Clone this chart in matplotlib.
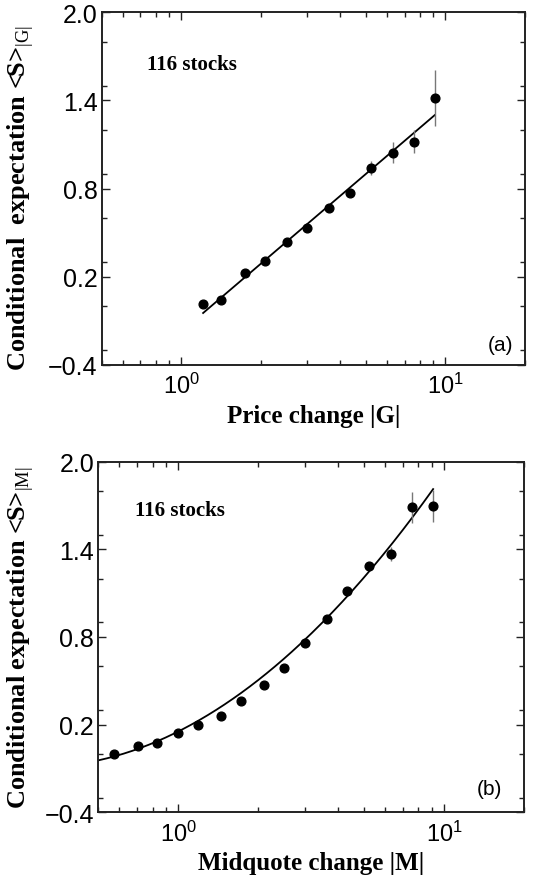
import numpy as np
import matplotlib
matplotlib.use("Agg")
import matplotlib.pyplot as plt
from matplotlib.ticker import FixedLocator, MultipleLocator, LogLocator, FuncFormatter, NullFormatter

plt.rcParams['mathtext.fontset'] = 'custom'
plt.rcParams['mathtext.rm'] = 'Liberation Serif'
plt.rcParams['mathtext.sf'] = 'Liberation Sans'
plt.rcParams['axes.unicode_minus'] = True

# ---- data panel (a): price change |G|
g_x = [1.21, 1.42, 1.74, 2.07, 2.52, 3.0, 3.64, 4.34, 5.21, 6.31, 7.60, 9.11]
g_y = [0.013, 0.039, 0.222, 0.308, 0.436, 0.531, 0.669, 0.771, 0.940, 1.044, 1.12, 1.414]
g_err = [0.01, 0.01, 0.01, 0.01, 0.01, 0.012, 0.015, 0.02, 0.05, 0.07, 0.077, 0.19]
fit_g_x = [1.21, 9.11]
fit_g_y = [-0.048, 1.30]

# ---- data panel (b): midquote change |M|
m_x = [0.571, 0.706, 0.829, 1.0, 1.188, 1.442, 1.719, 2.098, 2.50, 3.0, 3.62, 4.33, 5.22, 6.30, 7.57, 9.08]
m_y = [0.0, 0.056, 0.075, 0.143, 0.198, 0.262, 0.364, 0.474, 0.590, 0.759, 0.921, 1.117, 1.284, 1.368, 1.6875, 1.694]
m_err = [0.005, 0.005, 0.005, 0.005, 0.005, 0.008, 0.01, 0.01, 0.01, 0.012, 0.015, 0.015, 0.02, 0.05, 0.105, 0.11]
fit_m_x = [0.5, 1.0, 2.0, 3.0, 5.2, 9.1]
fit_m_y = [-0.046, 0.158, 0.50, 0.786, 1.243, 1.813]

y_ticks = [-0.4, 0.2, 0.8, 1.4, 2.0]
x_ticks = [1, 10]

W, H = 534, 879
fig = plt.figure(figsize=(W / 100, H / 100), dpi=100)

def px_axes(l, r, t, b):
    return fig.add_axes([l / W, 1 - b / H, (r - l) / W, (b - t) / H])

ax1 = px_axes(101.7, 525, 13.3, 365.7)
ax2 = px_axes(98.3, 524, 462.7, 813.3)

serif = 'Liberation Serif'
sans = 'Liberation Sans'

def style(ax, xlabel, ylabel):
    ax.set_xscale('log')
    ax.set_xlim(0.5, 20)
    ax.set_ylim(-0.4, 2.0)
    ax.yaxis.set_major_locator(FixedLocator(y_ticks))
    ax.yaxis.set_minor_locator(MultipleLocator(0.3))
    ax.yaxis.set_major_formatter(FuncFormatter(lambda v, p: ('%.1f' % v).replace('-', '\u2212')))
    ax.xaxis.set_major_locator(FixedLocator(x_ticks))
    ax.xaxis.set_minor_locator(LogLocator(base=10, subs=np.arange(2, 10)))
    ax.xaxis.set_minor_formatter(NullFormatter())
    ax.xaxis.set_major_formatter(FuncFormatter(lambda v, p: r'$\mathsf{10^{%d}}$' % int(round(np.log10(v)))))
    ax.tick_params(which='both', direction='in', top=True, right=True, width=1.0, color='#222222')
    ax.tick_params(which='major', length=6)
    ax.tick_params(which='minor', length=3.5)
    ax.tick_params(axis='y', labelsize=18, pad=3)
    ax.tick_params(axis='x', labelsize=17, pad=6)
    for lab in ax.get_yticklabels() + ax.get_xticklabels():
        lab.set_fontfamily(sans)
    for s in ax.spines.values():
        s.set_linewidth(1.4)
        s.set_color('#222222')
    ax.set_xlabel(xlabel, fontfamily=serif, fontweight='bold', fontsize=18, labelpad=4)
    ax.set_ylabel(ylabel, fontfamily=serif, fontweight='bold', fontsize=19, labelpad=5)

# panel (a)
ax1.errorbar(g_x, g_y, yerr=g_err, fmt='o', color='black', ms=6.3, ecolor='#777777', elinewidth=1.0, capsize=0, zorder=3)
ax1.plot(fit_g_x, fit_g_y, color='black', lw=1.3, zorder=2)
style(ax1, 'Price change |G|', r'Conditional  expectation <S>$_{\mathrm{|G|}}$')
ax1.yaxis.set_label_coords(-0.155, 0.475)
ax1.text(0.745, 1.65, '116 stocks', fontfamily=serif, fontweight='bold', fontsize=15, va='center', ha='left')
ax1.text(18.0, -0.26, '(a)', fontfamily=sans, fontsize=15, va='center', ha='right')

# panel (b)
coef = np.polyfit(np.log10(fit_m_x), fit_m_y, 2)
xs = np.logspace(np.log10(fit_m_x[0]), np.log10(fit_m_x[-1]), 200)
ax2.errorbar(m_x, m_y, yerr=m_err, fmt='o', color='black', ms=6.3, ecolor='#777777', elinewidth=1.0, capsize=0, zorder=3)
ax2.plot(xs, np.polyval(coef, np.log10(xs)), color='black', lw=1.3, zorder=2)
style(ax2, 'Midquote change |M|', r'Conditional expectation <S>$_{\mathrm{|M|}}$')
ax2.yaxis.set_label_coords(-0.146, 0.5)
ax2.text(0.687, 1.67, '116 stocks', fontfamily=serif, fontweight='bold', fontsize=15, va='center', ha='left')
ax2.text(16.6, -0.24, '(b)', fontfamily=sans, fontsize=15, va='center', ha='right')

fig.savefig('out.png', dpi=100)
